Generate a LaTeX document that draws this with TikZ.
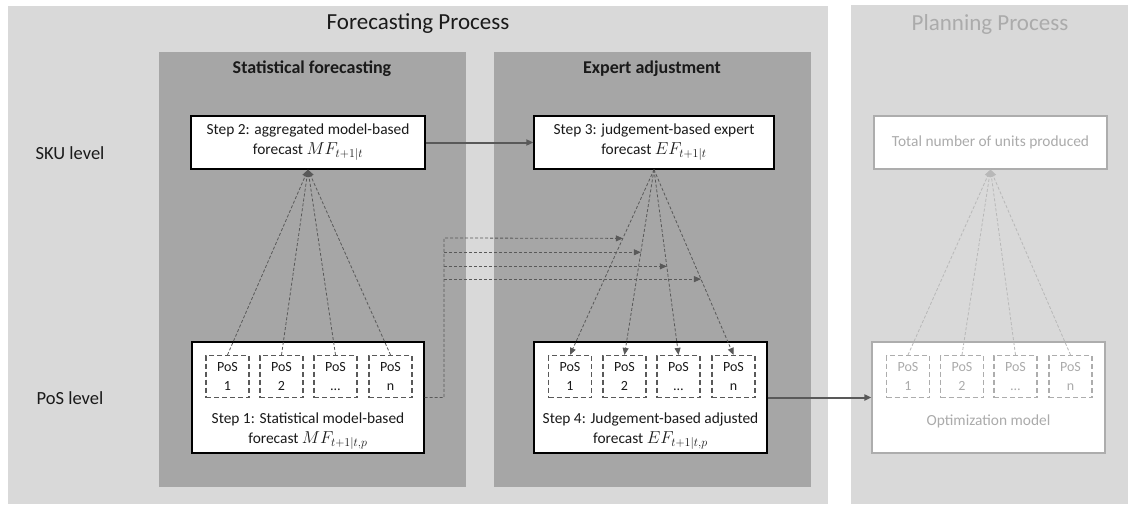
\documentclass[tikz,border=0pt]{standalone}
\usepackage{fontspec}
\setmainfont{Carlito}
\usetikzlibrary{arrows.meta,calc}

\definecolor{paneLight}{HTML}{D9D9D9}
\definecolor{paneDark}{HTML}{A6A6A6}
\definecolor{lineDark}{HTML}{595959}
\definecolor{inkText}{HTML}{1A1A1A}
\definecolor{fadeText}{HTML}{ABABAB}
\definecolor{fadeLine}{HTML}{B8B8B8}
\definecolor{fadeBorder}{HTML}{ADADAD}

% forecast symbols set a little larger than the running text
\newcommand{\fsym}[1]{{\fontsize{17.5}{20}\selectfont$#1$}}

\begin{document}
\begin{tikzpicture}[x=1pt,y=-1pt,
  every node/.style={text=inkText},
  title/.style={font=\fontsize{23}{27}\selectfont},
  levellabel/.style={font=\fontsize{18.5}{22}\selectfont},
  panetitle/.style={font=\fontsize{18}{21}\selectfont\bfseries},
  stepbox/.style={draw=black,line width=1.3pt,fill=white,inner sep=0pt},
  steptext/.style={align=center,font=\fontsize{15.4}{20}\selectfont},
  posbox/.style={draw=lineDark,dash pattern=on 5pt off 3pt,line width=1.2pt,
    minimum width=43pt,minimum height=42pt,inner sep=0pt,align=center,
    font=\fontsize{14}{19}\selectfont},
  fadebox/.style={draw=fadeBorder,line width=1.2pt,fill=white,inner sep=0pt},
  fadepos/.style={posbox,draw=fadeBorder,text=fadeText},
  tip/.style={-{Triangle[length=7pt,width=6pt]}},
  solidflow/.style={tip,draw=lineDark,line width=2pt},
  flow/.style={tip,draw=lineDark,line width=0.8pt,dash pattern=on 3pt off 2pt},
  fadeflow/.style={-{Triangle[length=7pt,width=6pt]},draw=fadeLine,line width=0.8pt,
    dash pattern=on 3pt off 2pt},
]
\useasboundingbox (0,0) rectangle (1128,504);
\fill[white] (0,0) rectangle (1128,504);

% process backgrounds
\fill[paneLight] (8,6) rectangle (828,504);
\fill[paneLight] (851,5) rectangle (1128,504);
\node[title] (fp) at (418,24) {Forecasting Process};
\node[title,text=fadeText] (pp) at (990,24) {Planning Process};

% level labels
\node[levellabel] (sku) at (70,153) {SKU level};
\node[levellabel] (pos) at (70,398) {PoS level};

% stage panels
\fill[paneDark] (159,52) rectangle (466,487);
\fill[paneDark] (494,52) rectangle (811,487);
\node[panetitle] (sf) at (312,69) {Statistical forecasting};
\node[panetitle] (ea) at (652,69) {Expert adjustment};

% SKU-level boxes
\node[stepbox,minimum width=234pt,minimum height=53pt] (s2) at (308,142.5) {};
\node[steptext] at (s2.center) {Step 2: aggregated model-based\\forecast \fsym{MF_{t+1|t}}};
\node[stepbox,minimum width=240pt,minimum height=53pt] (s3) at (654,142.5) {};
\node[steptext] at (s3.center) {Step 3: judgement-based expert\\forecast \fsym{EF_{t+1|t}}};
\node[fadebox,minimum width=233pt,minimum height=53pt] (tot) at (990.5,142.5) {};
\node[steptext,text=fadeText] at (tot.center) {Total number of units produced};

% PoS-level boxes
\node[stepbox,minimum width=232pt,minimum height=111pt] (s1) at (308,397.5) {};
\node[steptext] at (308,431.5) {Step 1: Statistical model-based\\forecast \fsym{MF_{t+1|t,p}}};
\node[stepbox,minimum width=233pt,minimum height=111pt] (s4) at (650.5,397.5) {};
\node[steptext] at (650.5,431.5) {Step 4: Judgement-based adjusted\\forecast \fsym{EF_{t+1|t,p}}};
\node[fadebox,minimum width=233pt,minimum height=111pt] (opt) at (988.5,397.5) {};
\node[steptext,text=fadeText] at (988.5,421) {Optimization model};

% points of sale inside each PoS-level box
\foreach \i/\x/\t in {1/227.5/1,2/281.5/2,3/335.5/\dots,4/390.5/n}
  \node[posbox] (a\i) at (\x,376.5) {PoS\\\t};
\foreach \i/\x/\t in {1/570/1,2/624.5/2,3/678.5/\dots,4/733.5/n}
  \node[posbox] (e\i) at (\x,376.5) {PoS\\\t};
\foreach \i/\x/\t in {1/908/1,2/962/2,3/1015.5/\dots,4/1070.5/n}
  \node[fadepos] (o\i) at (\x,376.5) {PoS\\\t};

% aggregation of PoS forecasts
\foreach \i in {1,...,4}
  \draw[flow] (a\i.north) -- (s2.south);
% disaggregation of the expert forecast
\foreach \i in {1,...,4}
  \draw[flow] (s3.south) -- (e\i.north);
% planning aggregation
\foreach \i in {1,...,4}
  \draw[fadeflow] (o\i.north) -- (tot.south);

% Step 1 information passed to the expert lines
\coordinate (bus) at (444,238);
\coordinate (t1) at ($(s3.south)!0.371!(e1.north)$);
\coordinate (t2) at ($(s3.south)!0.446!(e2.north)$);
\coordinate (t3) at ($(s3.south)!0.522!(e3.north)$);
\coordinate (t4) at ($(s3.south)!0.591!(e4.north)$);
\draw[flow] (s1.east) -| (bus) -- (t1);
\draw[flow] (bus |- t2) -- (t2);
\draw[flow] (bus |- t3) -- (t3);
\draw[flow] (bus |- t4) -- (t4);

% main flow
\draw[solidflow] (s2.east) -- (s3.west);
\draw[solidflow] (s4.east) -- (opt.west);
\end{tikzpicture}
\end{document}
